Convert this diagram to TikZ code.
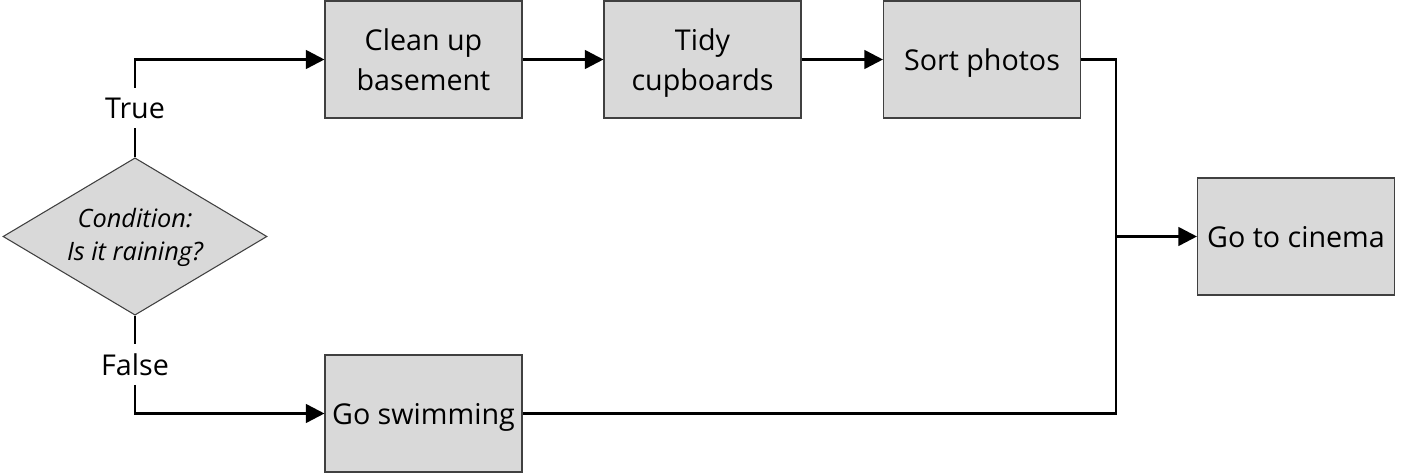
\documentclass[tikz,border=0pt]{standalone}
\usepackage{fontspec}
\setmainfont{Open Sans}
\usetikzlibrary{shapes.geometric,arrows.meta}
\definecolor{boxfill}{HTML}{D9D9D9}
\definecolor{boxline}{HTML}{404040}
\newcommand\bxtop{\rule{0pt}{22pt}}
\newcommand\bxbot{\rule[-6.2pt]{0pt}{0pt}}
\newcommand\dmtop{\rule{0pt}{20pt}}
\newcommand\dmbot{\rule[-8.8pt]{0pt}{0pt}}
\tikzset{
  stepbox/.style={draw=boxline, line width=0.8pt, fill=boxfill, minimum width=147.75pt, minimum height=87.75pt, inner sep=0pt, align=center, font=\fontsize{21.5}{30}\selectfont},
  decision/.style={diamond, draw=boxline, line width=0.8pt, fill=boxfill, aspect=1.68, minimum width=198pt, minimum height=118pt, inner sep=0pt, align=center, font=\fontsize{19}{25}\selectfont\itshape},
  branchlbl/.style={inner sep=0pt, minimum height=30pt, font=\fontsize{21.5}{24}\selectfont},
  conn/.style={line width=2pt, line join=miter},
  arrowconn/.style={conn, -{Triangle[length=14pt,width=14pt]}}
}
\begin{document}
\begin{tikzpicture}[x=0.75pt,y=-0.75pt]
\useasboundingbox (0,0) rectangle (1404,473);
\node[decision] (cond) at (135,236.5) {\dmtop Condition:\\Is it raining?\dmbot};
\node[stepbox] (clean) at (423.5,59.5) {\bxtop Clean up\\basement\bxbot};
\node[stepbox] (tidy) at (702.5,59.5) {\bxtop Tidy\\cupboards\bxbot};
\node[stepbox] (sort) at (982,59.5) {\bxtop Sort photos\bxbot};
\node[stepbox] (swim) at (423.5,413.5) {\bxtop Go swimming\bxbot};
\node[stepbox] (cinema) at (1296,236.5) {\bxtop Go to cinema\bxbot};
\node[branchlbl] (true) at (135,108) {True};
\node[branchlbl] (false) at (135,364.5) {False};
\coordinate (junc) at (1116,236.5);
\draw[arrowconn] (cond.north) -- (true) |- (clean.west);
\draw[arrowconn] (cond.south) -- (false) |- (swim.west);
\draw[arrowconn] (clean.east) -- (tidy.west);
\draw[arrowconn] (tidy.east) -- (sort.west);
\draw[conn] (sort.east) -| (junc) |- (swim.east);
\draw[arrowconn] (junc) -- (cinema.west);
\end{tikzpicture}
\end{document}
